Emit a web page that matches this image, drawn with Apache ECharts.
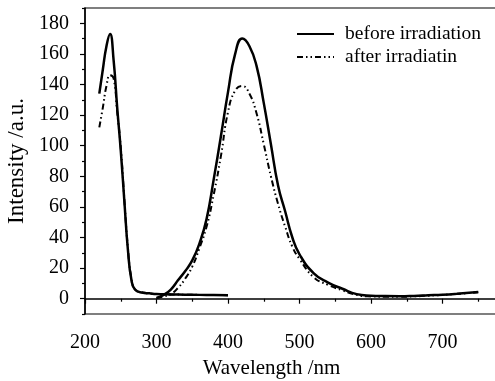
<!DOCTYPE html>
<html>
<head>
<meta charset="utf-8">
<script src="https://cdn.jsdelivr.net/npm/echarts@6/dist/echarts.min.js"></script>
<style>
  html, body { margin: 0; padding: 0; background: #fff; }
  #chart { width: 495px; height: 381px; }
</style>
</head>
<body>
<div id="chart"></div>
<script>
// excitation part (left peak)
const exWave   = [220, 225, 230, 235, 240, 245, 250, 255, 260, 265, 270, 280, 290, 300, 320, 340, 360, 380, 400];
const exBefore = [134, 150, 165, 173, 156, 125, 97, 64, 32, 12, 6, 4, 3.5, 3, 2.8, 2.6, 2.5, 2.4, 2.3];
const exAfter  = [112, 125, 139, 146, 144, 122, 99, 65, 33, 13, 6, 4, 3.4, 3, 2.8, 2.6, 2.5, 2.4, 2.3];

// emission part (right peak)
const emWave   = [300, 310, 320, 330, 340, 350, 360, 370, 380, 390, 400, 410, 420, 430, 440, 450, 460, 470, 480, 490, 500, 520, 540, 560, 580, 600, 620, 640, 660, 680, 700, 720, 750];
const emBefore = [0.5, 2.5, 6, 12, 18, 25, 36, 52, 78, 106, 135, 160, 170, 165, 152, 128, 101, 74, 57, 40, 29, 16.6, 10.5, 6.5, 3, 2, 1.7, 1.6, 1.8, 2.2, 2.6, 3.2, 4.3];
const emAfter  = [0.5, 1.5, 3, 7, 13, 21, 33, 47, 68, 93, 122, 136, 139, 134, 121, 101, 80, 62, 47, 34, 26, 14, 9, 5.5, 2.5, 1.5, 1.3, 1.2, 1.5, 2, 2.5, 3.1, 4.2];

// tick labels
const xLabels = [200, 300, 400, 500, 600, 700];
const yLabels = [0, 20, 40, 60, 80, 100, 120, 140, 160, 180];
const yMinor  = [-10, 10, 30, 50, 70, 90, 110, 130, 150, 170, 190];

const font = 'Liberation Serif';
const pairs = (xs, ys) => xs.map((x, i) => [x, ys[i]]);
const dashDotDot = [6, 3, 1.5, 3, 1.5, 3];

let chart = echarts.init(document.getElementById('chart'));

chart.setOption({
  animation: false,
  textStyle: { fontFamily: font, color: '#000' },
  grid: {
    left: 85, top: 8, width: 429, bottom: 67,
    outerBoundsMode: 'none',
    containLabel: false,
    show: true, borderColor: '#000', borderWidth: 1.2
  },
  legend: {
    orient: 'vertical',
    left: 291, top: 19,
    itemWidth: 37, itemHeight: 10, itemGap: 3,
    itemStyle: { color: 'rgba(0,0,0,0)', borderWidth: 0 },
    textStyle: { fontFamily: font, fontSize: 19.5, color: '#000', padding: [0, 0, 0, 6] },
    data: ['before irradiation', 'after irradiatin']
  },
  xAxis: {
    type: 'value',
    min: 200, max: 800, interval: 100,
    name: 'Wavelength /nm',
    nameLocation: 'middle',
    nameGap: 44,
    nameTextStyle: { fontFamily: font, fontSize: 21, color: '#000', padding: [0, 56, 0, 0] },
    axisLine: { lineStyle: { color: '#000', width: 1.5 } },
    axisTick: { length: 5, lineStyle: { color: '#000', width: 1.2 } },
    minorTick: { show: true, splitNumber: 2, length: 3, lineStyle: { color: '#000', width: 1.2 } },
    axisLabel: { customValues: xLabels, margin: 19, fontFamily: font, fontSize: 20, color: '#000' },
    splitLine: { show: false }
  },
  yAxis: [{
    type: 'value',
    min: -10, max: 190,
    name: 'Intensity /a.u.',
    nameLocation: 'middle',
    nameGap: 45,
    nameTextStyle: { fontFamily: font, fontSize: 23, color: '#000' },
    axisLine: { show: true, lineStyle: { color: '#000', width: 1.5 } },
    axisTick: { show: true, customValues: yLabels, length: 5, lineStyle: { color: '#000', width: 1.2 } },
    axisLabel: { customValues: yLabels, margin: 16, fontFamily: font, fontSize: 20, color: '#000' },
    splitLine: { show: false }
  }, {
    // minor ticks only
    type: 'value',
    position: 'left',
    min: -10, max: 190,
    axisLine: { show: false },
    axisTick: { show: true, customValues: yMinor, length: 3, lineStyle: { color: '#000', width: 1.2 } },
    axisLabel: { show: false },
    splitLine: { show: false }
  }],
  series: [
    {
      name: 'before irradiation', type: 'line', smooth: true, symbol: 'none',
      lineStyle: { color: '#000', width: 2.5 },
      itemStyle: { color: '#000' },
      data: pairs(exWave, exBefore)
    },
    {
      name: 'before irradiation', type: 'line', smooth: true, symbol: 'none',
      lineStyle: { color: '#000', width: 2.5 },
      itemStyle: { color: '#000' },
      data: pairs(emWave, emBefore)
    },
    {
      name: 'after irradiatin', type: 'line', smooth: true, symbol: 'none',
      lineStyle: { color: '#000', width: 2, type: dashDotDot },
      itemStyle: { color: '#000' },
      data: pairs(exWave, exAfter)
    },
    {
      name: 'after irradiatin', type: 'line', smooth: true, symbol: 'none',
      lineStyle: { color: '#000', width: 2, type: dashDotDot },
      itemStyle: { color: '#000' },
      data: pairs(emWave, emAfter)
    }
  ]
});
</script>
</body>
</html>
